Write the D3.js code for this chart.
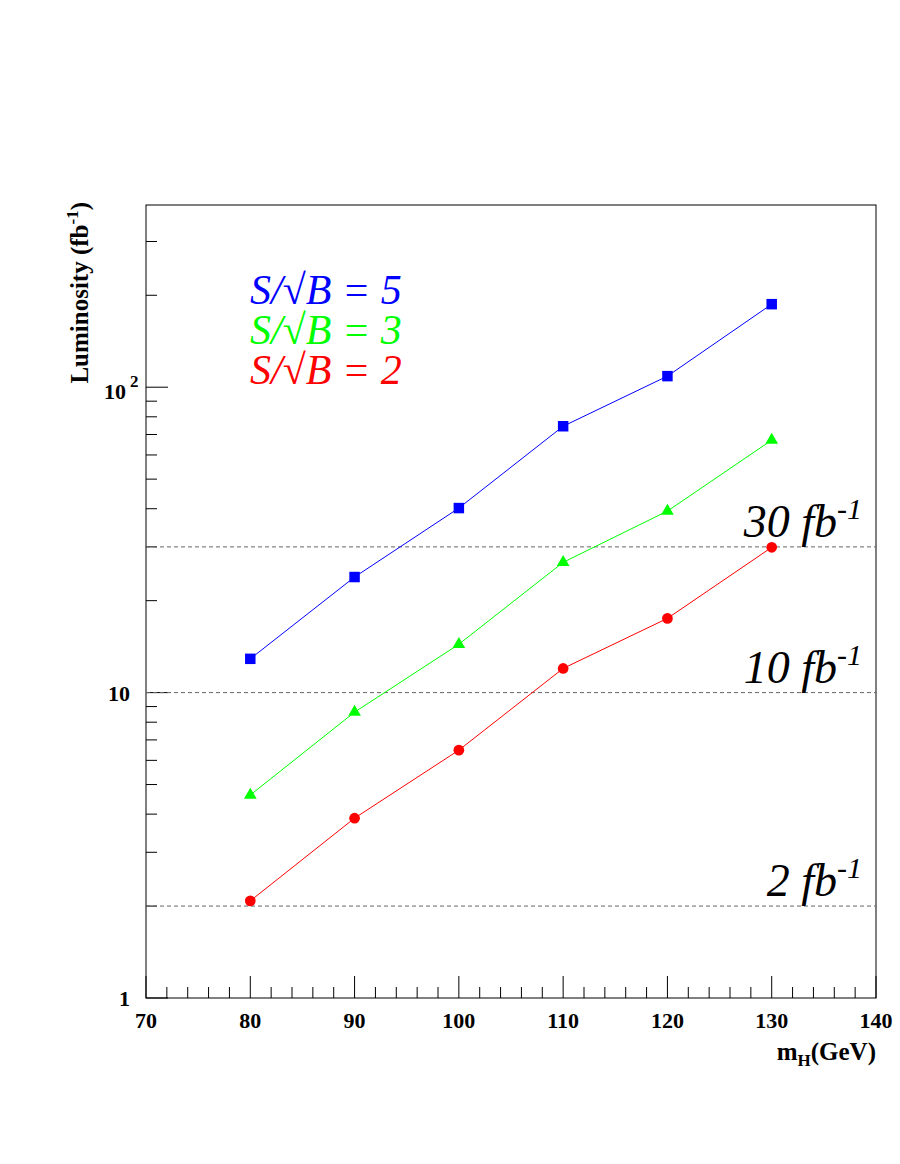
<!DOCTYPE html>
<html><head><meta charset="utf-8">
<script src="https://cdn.jsdelivr.net/npm/d3@7"></script>
<style>body{margin:0;background:#fff}</style>
</head><body>
<svg id="c" width="900" height="1164"></svg>
<script>
var masses = [80, 90, 100, 110, 120, 130];
var sig5 = [12.9, 23.9, 40.2, 74.5, 108.7, 187];
var sig3 = [4.62, 8.63, 14.4, 26.7, 39.3, 67.1];
var sig2 = [2.08, 3.88, 6.48, 12.0, 17.5, 29.9];
var refLumis = [30, 10, 2];
var xTicks = [70, 80, 90, 100, 110, 120, 130, 140];

var svg = d3.select('#c');
var L = 146, R = 876, T = 205, B = 998;
var x = d3.scaleLinear().domain([70, 140]).range([L, R]);
var y = d3.scaleLog().domain([1, 395]).range([B, T]);
var font = "'Liberation Serif', 'DejaVu Serif', serif";

svg.append('rect').attr('x', L).attr('y', T).attr('width', R - L).attr('height', B - T)
  .attr('fill', 'none').attr('stroke', '#000').attr('stroke-width', 1);

// x ticks
for (var v = 70; v <= 140; v += 2) {
  var major = v % 10 === 0;
  svg.append('line').attr('x1', x(v)).attr('x2', x(v)).attr('y1', B).attr('y2', B - (major ? 22 : 11))
    .attr('stroke', '#000');
}
xTicks.forEach(function (v) {
  svg.append('text').attr('x', x(v)).attr('y', B + 30).attr('text-anchor', 'middle')
    .attr('font-family', font).attr('font-weight', 'bold').attr('font-size', 22).text(v);
});
// y ticks
[1, 10, 100].forEach(function (d) {
  for (var k = 1; k <= 9; k++) {
    var v = d * k;
    if (v > 395) break;
    svg.append('line').attr('x1', L).attr('x2', L + (k === 1 ? 22 : 11)).attr('y1', y(v)).attr('y2', y(v))
      .attr('stroke', '#000');
  }
});
svg.append('text').attr('x', 130).attr('y', y(1) + 8).attr('text-anchor', 'end')
  .attr('font-family', font).attr('font-weight', 'bold').attr('font-size', 22).text('1');
svg.append('text').attr('x', 130).attr('y', y(10) + 8).attr('text-anchor', 'end')
  .attr('font-family', font).attr('font-weight', 'bold').attr('font-size', 22).text('10');
var t100 = svg.append('text').attr('x', 104).attr('y', y(100) + 12).attr('font-family', font)
  .attr('font-weight', 'bold').attr('font-size', 22);
t100.append('tspan').text('10');
t100.append('tspan').attr('dx', 4).attr('dy', -12).attr('font-size', 17).text('2');

// axis titles
var xt = svg.append('text').attr('x', R).attr('y', 1060).attr('text-anchor', 'end')
  .attr('font-family', font).attr('font-weight', 'bold').attr('font-size', 25);
xt.append('tspan').text('m');
xt.append('tspan').attr('dy', 6).attr('font-size', 17).text('H');
xt.append('tspan').attr('dy', -6).text('(GeV)');
var yt = svg.append('text').attr('transform', 'translate(88,' + 202 + ') rotate(-90)').attr('text-anchor', 'end')
  .attr('font-family', font).attr('font-weight', 'bold').attr('font-size', 25);
yt.append('tspan').text('Luminosity (fb');
yt.append('tspan').attr('dy', -10).attr('font-size', 17).text('-1');
yt.append('tspan').attr('dy', 10).text(')');

// reference lines
refLumis.forEach(function (v) {
  svg.append('line').attr('x1', L).attr('x2', R).attr('y1', y(v)).attr('y2', y(v))
    .attr('stroke', '#666').attr('stroke-dasharray', '4,3');
  var t = svg.append('text').attr('x', 862).attr('y', y(v) - 10).attr('text-anchor', 'end')
    .attr('font-family', font).attr('font-style', 'italic').attr('font-size', 46);
  t.append('tspan').text(v + ' fb');
  t.append('tspan').attr('dy', -18).attr('font-size', 30).text('-1');
});

// series
var series = [
  {vals: sig5, color: '#0000ff', sym: d3.symbolSquare, size: 110},
  {vals: sig3, color: '#00ff00', sym: d3.symbolTriangle, size: 70},
  {vals: sig2, color: '#ff0000', sym: d3.symbolCircle, size: 90}
];
series.forEach(function (s) {
  var line = d3.line().x(function (d, i) { return x(masses[i]); }).y(function (d) { return y(d); });
  svg.append('path').attr('d', line(s.vals)).attr('fill', 'none').attr('stroke', s.color).attr('stroke-width', 1);
  svg.selectAll(null).data(s.vals).enter().append('path')
    .attr('d', d3.symbol().type(s.sym).size(s.size))
    .attr('transform', function (d, i) { return 'translate(' + x(masses[i]) + ',' + y(d) + ')'; })
    .attr('fill', s.color);
});

// legend text
[['5', '#0000ff', 304], ['3', '#00ff00', 344], ['2', '#ff0000', 384]].forEach(function (l) {
  svg.append('text').attr('x', 250).attr('y', l[2]).attr('font-family', font).attr('font-style', 'italic')
    .attr('font-size', 42).attr('fill', l[1]).text('S/\u221AB = ' + l[0]);
});
</script>
</body></html>
